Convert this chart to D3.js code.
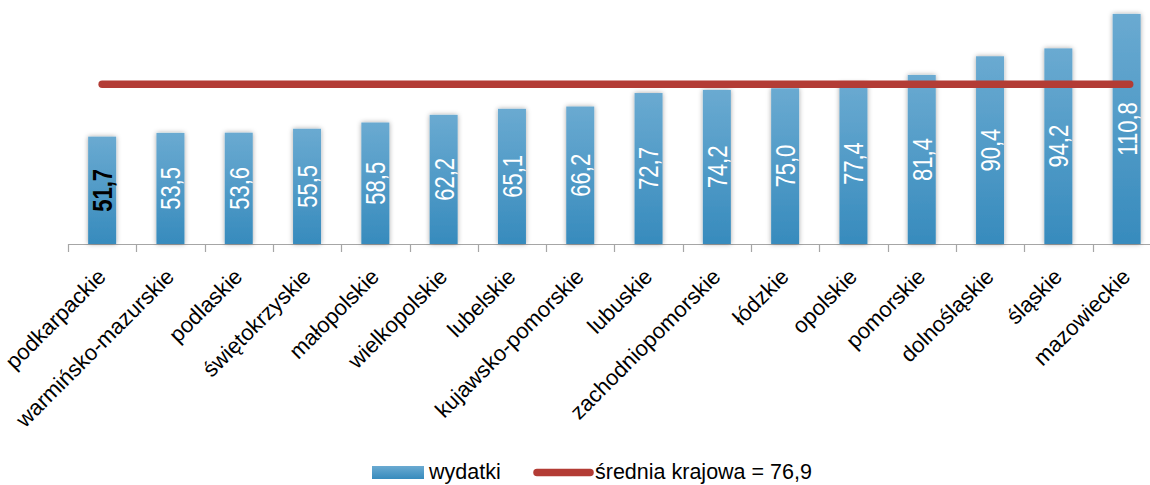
<!DOCTYPE html>
<html>
<head>
<meta charset="utf-8">
<script src="https://cdn.jsdelivr.net/npm/d3@7"></script>
<style>
  body { margin: 0; background: #fff; }
  svg { font-family: "Liberation Sans", Arial, sans-serif; }
</style>
</head>
<body>
<svg id="chart"></svg>
<script>
// dane
var regions = ["podkarpackie", "warmińsko-mazurskie", "podlaskie", "świętokrzyskie", "małopolskie",
  "wielkopolskie", "lubelskie", "kujawsko-pomorskie", "lubuskie", "zachodniopomorskie", "łódzkie",
  "opolskie", "pomorskie", "dolnośląskie", "śląskie", "mazowieckie"];
var wydatki = [51.7, 53.5, 53.6, 55.5, 58.5, 62.2, 65.1, 66.2, 72.7, 74.2, 75.0, 77.4, 81.4, 90.4, 94.2, 110.8];
var srednia = 76.9;
var legendLabels = ["wydatki", "średnia krajowa = 76,9"];

var width = 1150, height = 485;
var baseY = 244;
var fmt = function (v) { return v.toFixed(1).replace(".", ","); };

var svg = d3.select("#chart").attr("width", width).attr("height", height);

var defs = svg.append("defs");
var grad = defs.append("linearGradient").attr("id", "barGrad")
  .attr("x1", 0).attr("y1", 0).attr("x2", 0).attr("y2", 1);
grad.append("stop").attr("offset", "0%").attr("stop-color", "#6aaad1");
grad.append("stop").attr("offset", "100%").attr("stop-color", "#378bbd");

var shadow = defs.append("filter").attr("id", "shadow")
  .attr("x", "-30%").attr("y", "-10%").attr("width", "160%").attr("height", "120%");
shadow.append("feGaussianBlur").attr("in", "SourceAlpha").attr("stdDeviation", 2.5).attr("result", "blur");
shadow.append("feColorMatrix").attr("in", "blur").attr("type", "matrix")
  .attr("values", "0 0 0 0 0  0 0 0 0 0  0 0 0 0 0  0 0 0 0.35 0").attr("result", "sh");
var merge = shadow.append("feMerge");
merge.append("feMergeNode").attr("in", "sh");
merge.append("feMergeNode").attr("in", "SourceGraphic");

// skale
var x = d3.scaleBand().domain(regions).range([68, 68 + 16 * 68.3]).paddingInner(0.59).paddingOuter(0.295);
var y = d3.scaleLinear().domain([0, 117.5]).range([baseY, 0]);

// oś X
var axis = svg.append("g").attr("transform", "translate(0," + baseY + ")");
axis.append("line").attr("x1", 68).attr("x2", width).attr("y1", 0.5).attr("y2", 0.5)
  .attr("stroke", "#a6a6a6").attr("stroke-width", 1.2);
d3.range(regions.length + 1).forEach(function (i) {
  var tx = Math.round(68 + i * x.step()) + 0.5;
  axis.append("line").attr("x1", tx).attr("x2", tx).attr("y1", 0).attr("y2", 8)
    .attr("stroke", "#a6a6a6").attr("stroke-width", 1.2);
});

// słupki
svg.append("g").selectAll("rect").data(wydatki).join("rect")
  .attr("x", function (d, i) { return x(regions[i]); })
  .attr("y", function (d) { return y(d); })
  .attr("width", x.bandwidth())
  .attr("height", function (d) { return baseY - y(d); })
  .attr("fill", "url(#barGrad)")
  .attr("filter", "url(#shadow)");

// etykiety wartości
svg.append("g").selectAll("text").data(wydatki).join("text")
  .attr("transform", function (d, i) {
    var cx = x(regions[i]) + x.bandwidth() / 2;
    var cy = (y(d) + baseY) / 2;
    return "translate(" + cx + "," + cy + ") rotate(-90) scale(1,1.25)";
  })
  .attr("text-anchor", "middle")
  .attr("dy", "0.36em")
  .style("font-size", "22px")
  .style("font-weight", function (d, i) { return i === 0 ? "bold" : "normal"; })
  .attr("fill", function (d, i) { return i === 0 ? "#000" : "#fff"; })
  .text(fmt);

// średnia
var first = x(regions[0]) + x.bandwidth() / 2;
var last = x(regions[regions.length - 1]) + x.bandwidth() / 2;
svg.append("line")
  .attr("x1", first).attr("x2", last + 3)
  .attr("y1", y(srednia)).attr("y2", y(srednia))
  .attr("stroke", "#b33c35").attr("stroke-width", 7.5).attr("stroke-linecap", "round");

// etykiety kategorii
svg.append("g").selectAll("text").data(regions).join("text")
  .attr("transform", function (d) {
    return "translate(" + (x(d) + x.bandwidth() / 2 + 5) + "," + (baseY + 34) + ") rotate(-45)";
  })
  .attr("text-anchor", "end")
  .style("font-size", "22px")
  .attr("fill", "#000")
  .text(function (d) { return d; });

// legenda
var leg = svg.append("g");
leg.append("rect").attr("x", 372).attr("y", 466).attr("width", 52).attr("height", 13)
  .attr("fill", "url(#barGrad)");
leg.append("text").attr("x", 429).attr("y", 479).style("font-size", "21.5px").text(legendLabels[0]);
leg.append("line").attr("x1", 537).attr("x2", 590).attr("y1", 472.5).attr("y2", 472.5)
  .attr("stroke", "#b33c35").attr("stroke-width", 7.5).attr("stroke-linecap", "round");
leg.append("text").attr("x", 595).attr("y", 479).style("font-size", "21.5px").text(legendLabels[1]);
</script>
</body>
</html>
